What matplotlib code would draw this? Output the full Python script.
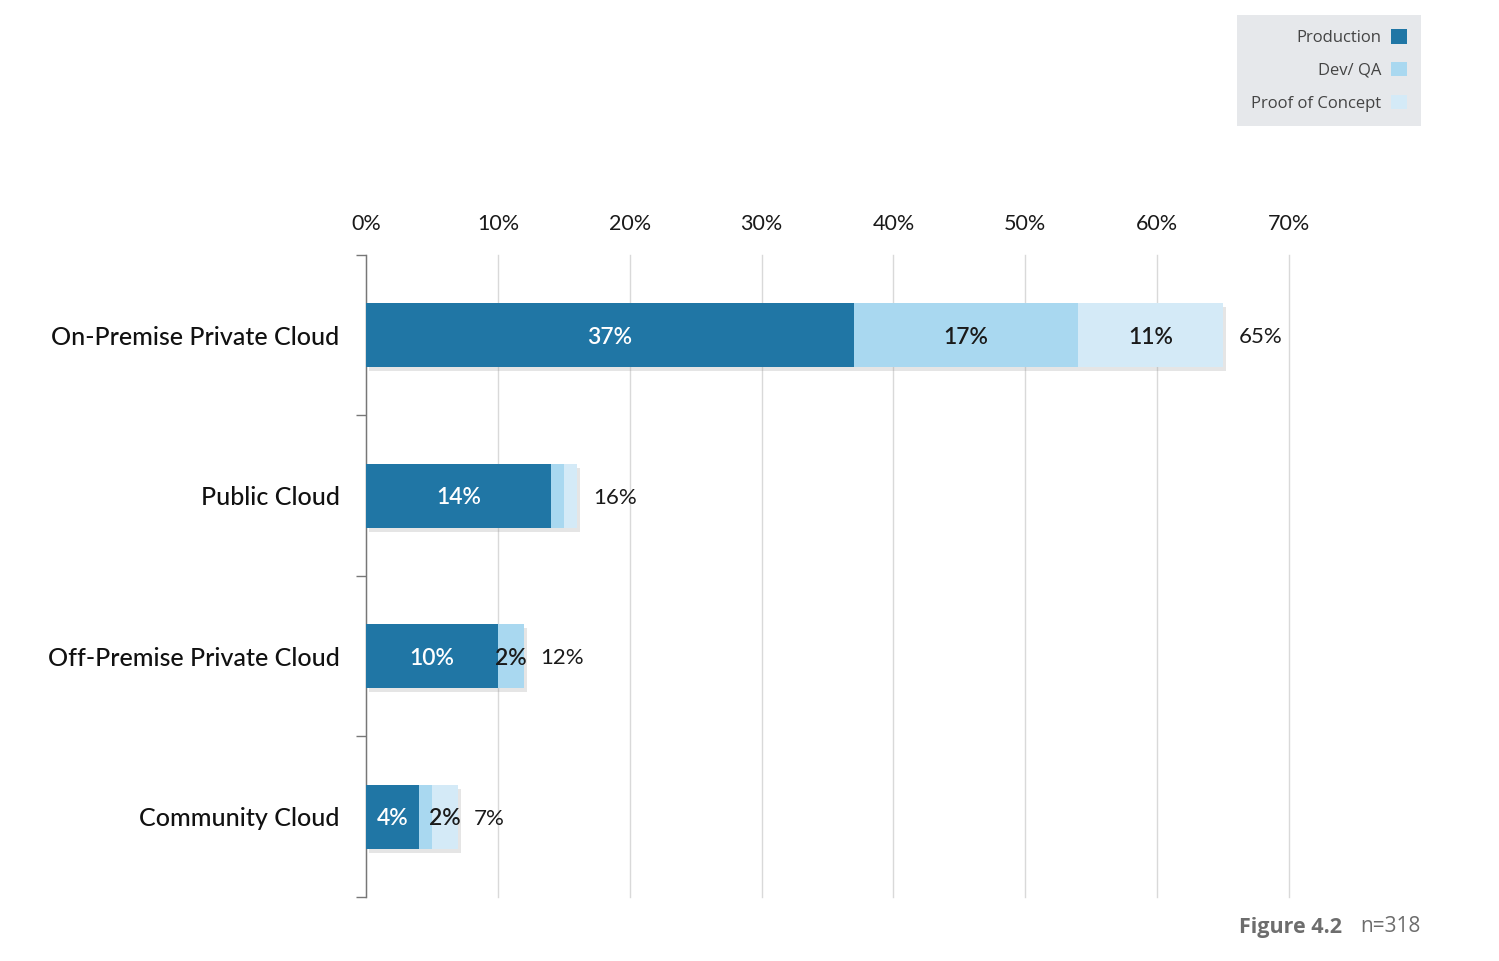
import matplotlib.pyplot as plt
import matplotlib.patheffects as pe
import numpy as np

categories = ['On-Premise Private Cloud', 'Public Cloud', 'Off-Premise Private Cloud', 'Community Cloud']
production = [37, 14, 10, 4]
dev_qa = [17, 1, 2, 1]
proof_of_concept = [11, 1, 0, 2]
totals = [65, 16, 12, 7]
series_names = ['Production', 'Dev/ QA', 'Proof of Concept']
colors = ['#2076a5', '#a9d8f0', '#d4eaf7']
text_colors = ['white', '#1a1a1a', '#1a1a1a']
ticks = [0, 10, 20, 30, 40, 50, 60, 70]

plt.rcParams['font.family'] = ['Lato', 'DejaVu Sans']

fig = plt.figure(figsize=(14.99, 9.61), dpi=100)
ax = fig.add_axes([0.2442, 0.0666, 0.6157, 0.6681])

y = np.arange(len(categories))
left = np.zeros(len(categories))
shadow = [pe.withSimplePatchShadow(offset=(2, -3), shadow_rgbFace='#999999', alpha=0.25), pe.Normal()]
handles = []
for vals, name, col, tcol in zip([production, dev_qa, proof_of_concept], series_names, colors, text_colors):
    vals = np.array(vals, dtype=float)
    bars = ax.barh(y, vals, left=left, height=0.4, color=col, label=name, zorder=3)
    for b in bars:
        b.set_path_effects(shadow)
    handles.append(bars)
    for i, v in enumerate(vals):
        if v >= 2:
            ax.text(left[i] + v / 2, y[i], f'{int(v)}%', ha='center', va='center_baseline',
                    fontsize=16.5, color=tcol, fontweight='semibold', zorder=5)
    left += vals

for i, t in enumerate(totals):
    ax.text(left[i] + 1.2, y[i], f'{t}%', ha='left', va='center_baseline', fontsize=16,
            color='#1a1a1a', zorder=5)

ax.set_xlim(0, 70)
ax.set_ylim(len(categories) - 0.5, -0.5)
ax.set_xticks(ticks)
ax.set_xticklabels([f'{t}%' for t in ticks], fontsize=15.5, color='#1a1a1a')
ax.xaxis.tick_top()
ax.tick_params(axis='x', length=0, pad=15)
ax.grid(axis='x', color='#d9d9d9', linewidth=1, zorder=0)
for gl in ax.get_xgridlines():
    gl.set_clip_on(False)

ax.set_yticks(y)
ax.set_yticklabels(categories, fontsize=18, color='#111111', fontweight='medium')
ax.set_yticks(np.arange(len(categories) + 1) - 0.5, minor=True)
ax.tick_params(axis='y', which='major', length=0, pad=19)
ax.tick_params(axis='y', which='minor', length=7, color='#777777', width=1)

for s in ['top', 'right', 'bottom']:
    ax.spines[s].set_visible(False)
ax.spines['left'].set_color('#777777')
ax.spines['left'].set_linewidth(1)

leg = fig.legend(handles=handles, labels=series_names, loc='upper right',
                 bbox_to_anchor=(1421 / 1499, 1 - 15 / 961), borderaxespad=0, markerfirst=False,
                 handlelength=0.95, handleheight=0.95, handletextpad=0.6,
                 labelspacing=0.95, borderpad=0.85, fancybox=False, frameon=True,
                 prop={'family': ['Open Sans', 'DejaVu Sans'], 'size': 12})
leg.get_frame().set_facecolor('#e6e8eb')
leg.get_frame().set_edgecolor('none')
leg.get_frame().set_alpha(1)
for t in leg.get_texts():
    t.set_color('#444444')
for h in leg.legend_handles:
    h.set_path_effects([])

fig.text(1421 / 1499, 1 - 927 / 961, 'n=318', ha='right', va='center', fontsize=15,
         color='#6d6d6d', family=['Open Sans', 'DejaVu Sans'])
fig.text(1342 / 1499, 1 - 927 / 961, 'Figure 4.2', ha='right', va='center', fontsize=15.5,
         color='#6d6d6d', fontweight='bold', family=['Open Sans', 'DejaVu Sans'])

fig.savefig('out.png', dpi=100)
